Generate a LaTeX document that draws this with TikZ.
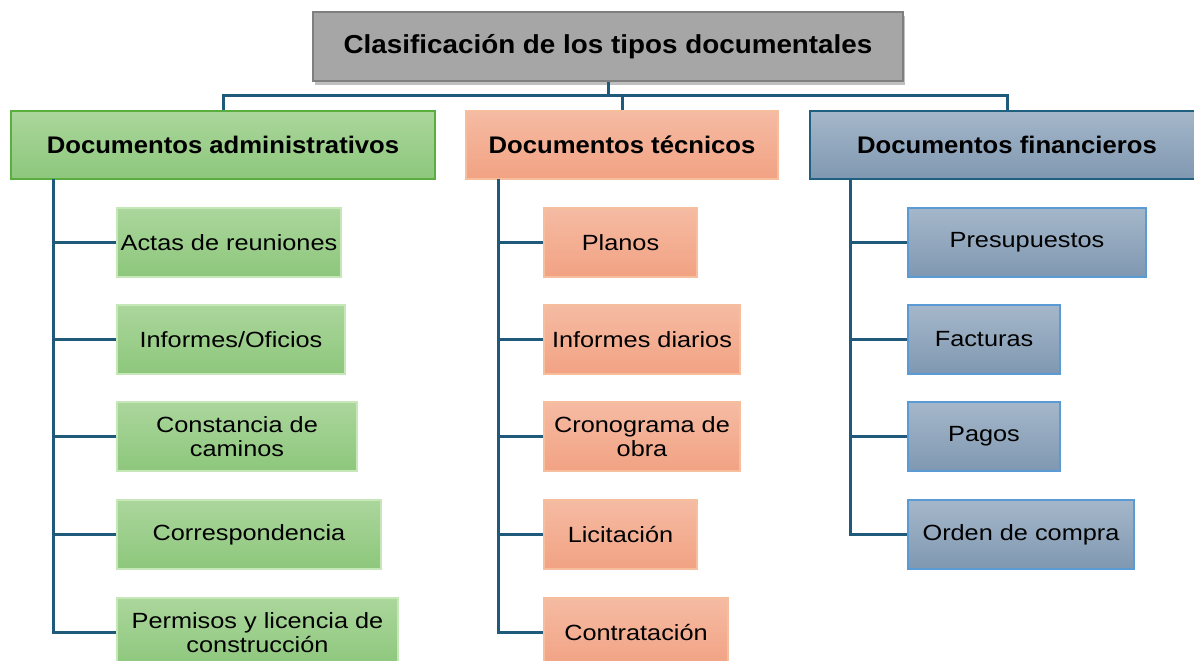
\documentclass[tikz,border=0pt]{standalone}
\usepackage{fontspec}
\setmainfont{Liberation Sans}
\newfontfamily\childfont[FakeStretch=1.15]{Liberation Sans}
\newfontfamily\headfont[FakeStretch=1.07]{Liberation Sans}
\usetikzlibrary{shadows}
\definecolor{conncol}{HTML}{1F5A7A}
\definecolor{gtop}{HTML}{ABD69C}
\definecolor{gbot}{HTML}{8DC77C}
\definecolor{gborder}{HTML}{5AAE3E}
\definecolor{gcborder}{HTML}{C6E7B8}
\definecolor{stop}{HTML}{F5BBA3}
\definecolor{sbot}{HTML}{F2A283}
\definecolor{sborder}{HTML}{F6BE9C}
\definecolor{btop}{HTML}{A5B7CA}
\definecolor{bbot}{HTML}{7F98B1}
\definecolor{bborder}{HTML}{1F5F7F}
\definecolor{bcborder}{HTML}{5B9BD5}
\definecolor{titlefill}{HTML}{A6A6A6}
\definecolor{titleborder}{HTML}{7F7F7F}
\tikzset{
  conn/.style={draw=conncol, line width=3pt},
  box/.style={rectangle, inner sep=0pt, minimum height=69pt, align=center,
    font=\childfont\fontsize{22}{24.5}\selectfont, line width=1.6pt},
  headbox/.style={box, minimum height=68pt, font=\headfont\bfseries\fontsize{24}{26}\selectfont},
  gh/.style={headbox, top color=gtop, bottom color=gbot, draw=gborder},
  gc/.style={box, top color=gtop, bottom color=gbot, draw=gcborder},
  sh/.style={headbox, top color=stop, bottom color=sbot, draw=sborder},
  sc/.style={box, top color=stop, bottom color=sbot, draw=sborder},
  bh/.style={headbox, top color=btop, bottom color=bbot, draw=bborder},
  bc/.style={box, top color=btop, bottom color=bbot, draw=bcborder},
  titlebox/.style={rectangle, inner sep=0pt, minimum width=590pt, minimum height=69pt,
    fill=titlefill, draw=titleborder, line width=1.5pt,
    drop shadow={shadow xshift=2pt, shadow yshift=-4pt, opacity=0.35, fill=black!70},
    font=\headfont\bfseries\fontsize{26}{28}\selectfont}
}
\begin{document}
\begin{tikzpicture}[x=1pt, y=-1pt]
\useasboundingbox (0,0) rectangle (1194,661);
\fill[white] (0,0) rectangle (1194,661);

\node[titlebox] (top) at (608,46.5) {Clasificación de los tipos documentales};

\node[gh, minimum width=424pt] (adm) at (223,145) {Documentos administrativos};
\node[sh, minimum width=312pt] (tec) at (622,145) {Documentos técnicos};
\node[bh, minimum width=394pt] (fin) at (1007,145) {Documentos financieros};

% children admin
\node[gc, minimum width=224pt] (a1) at (229,242.5) {Actas de reuniones};
\node[gc, minimum width=228pt] (a2) at (231,339.5) {Informes/Oficios};
\node[gc, minimum width=240pt] (a3) at (237,436.5) {Constancia de\\caminos};
\node[gc, minimum width=264pt] (a4) at (249,534.5) {Correspondencia};
\node[gc, minimum width=281pt] (a5) at (257.5,632.5) {Permisos y licencia de\\construcción};

% children tecnicos
\node[sc, minimum width=153pt] (t1) at (620.5,242.5) {Planos};
\node[sc, minimum width=196pt] (t2) at (642,339.5) {Informes diarios};
\node[sc, minimum width=196pt] (t3) at (642,436.5) {Cronograma de\\obra};
\node[sc, minimum width=153pt] (t4) at (620.5,534.5) {Licitación};
\node[sc, minimum width=184pt] (t5) at (636,632.5) {Contratación};

% children financieros
\node[bc, minimum width=238pt] (f1) at (1027,242.5) {Presupuestos};
\node[bc, minimum width=152pt] (f2) at (984,339.5) {Facturas};
\node[bc, minimum width=152pt] (f3) at (984,436.5) {Pagos};
\node[bc, minimum width=226pt] (f4) at (1021,534.5) {Orden de compra};

% bus
\draw[conn] (top.south) -- ++(0,15);
\draw[conn] (adm.north) -- ++(0,-15) -| (fin.north);
\draw[conn] (tec.north) -- ++(0,-15);

% spines
\coordinate (sA) at (53,179);
\coordinate (sT) at (498,179);
\coordinate (sF) at (850,179);
\draw[conn] (sA) |- (a5.west);
\draw[conn] (sT) |- (t5.west);
\draw[conn] (sF) |- (f4.west);
\foreach \c in {a1,a2,a3,a4} \draw[conn] (\c.west) -- (\c.west -| sA);
\foreach \c in {t1,t2,t3,t4} \draw[conn] (\c.west) -- (\c.west -| sT);
\foreach \c in {f1,f2,f3} \draw[conn] (\c.west) -- (\c.west -| sF);
\end{tikzpicture}
\end{document}
